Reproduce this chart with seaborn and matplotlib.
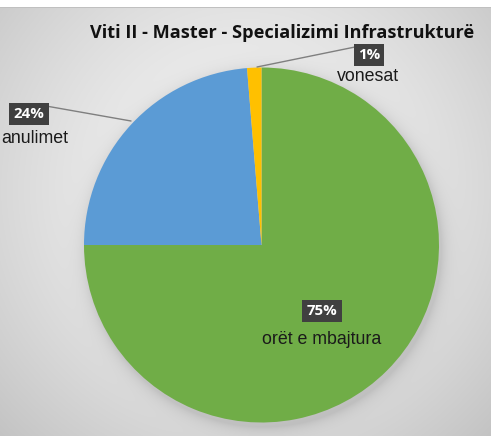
import numpy as np
import matplotlib
matplotlib.use("Agg")
import matplotlib.pyplot as plt
import seaborn as sns

# ---- data ----
categories = ["orët e mbajtura", "anulimet", "vonesat"]
values = [75.0, 23.7, 1.3]
pct_labels = ["75%", "24%", "1%"]
colors = ["#70AD47", "#5B9BD5", "#FFC000"]
title = "Viti II - Master - Specializimi Infrastrukturë"

sns.set_style("white")
plt.rcParams["font.family"] = ["Liberation Sans", "DejaVu Sans"]

W, H = 491, 436
fig = plt.figure(figsize=(W / 100, H / 100), dpi=100)

# ---- background gradient with soft pie shadow ----
cx, cy, R = 261.5, 245.0, 177.5
yy, xx = np.mgrid[0:H, 0:W].astype(float)
rg = np.hypot((xx - 245) / 300.0, (yy - 190) / 300.0)
bg = 0.955 - 0.15 * np.clip(rg, 0, 1.3) ** 1.6
d = np.hypot(xx - cx - 2, yy - cy - 4) - R
shadow = np.where(d > 0, np.exp(-d / 7.0), 1.0) * 0.10
bg = bg - shadow
bg[:8, :] = 1.0
bg[8:9, :] = 0.75
img = np.dstack([bg, bg, bg])
bax = fig.add_axes([0, 0, 1, 1])
bax.imshow(img, extent=(0, W, H, 0), aspect="auto", interpolation="bilinear")
bax.set_xlim(0, W)
bax.set_ylim(H, 0)
bax.axis("off")

# ---- pie ----
ax = fig.add_axes([(cx - R) / W, (H - cy - R) / H, 2 * R / W, 2 * R / H])
ax.pie(values, colors=colors, startangle=90, counterclock=False, radius=1.0,
       wedgeprops=dict(linewidth=0))
ax.set_xlim(-1, 1)
ax.set_ylim(-1, 1)
ax.set_aspect("equal")
ax.axis("off")


def p2d(px, py):
    return ((px - cx) / R, (cy - py) / R)


box = dict(boxstyle="square,pad=0.28", fc="#404040", ec="none")

# leader lines
for (x0, y0), (x1, y1) in [((46, 106), (131, 121)), ((355, 47), (257, 67))]:
    a, b = p2d(x0, y0)
    c, e = p2d(x1, y1)
    ax.plot([a, c], [b, e], color="#7f7f7f", lw=1.0, clip_on=False)

# labels: pct box positions and category positions (pixels)
pct_pos = [(322, 311), (29, 114), (369, 55)]
cat_pos = [(322, 339), (35, 138), (368, 76)]
for i in range(3):
    x, y = p2d(*pct_pos[i])
    ax.text(x, y, pct_labels[i], color="white", fontweight="bold", fontsize=10.8,
            family=["Open Sans", "DejaVu Sans"],
            ha="center", va="center", bbox=box, clip_on=False, zorder=5)
    x, y = p2d(*cat_pos[i])
    ax.text(x, y, categories[i], color="#1a1a1a", fontsize=12.8,
            ha="center", va="center", clip_on=False, zorder=5)

fig.text(282 / W, 1 - 33 / H, title, ha="center", va="center", fontsize=13.1,
         fontweight="bold", color="#111111", family=["Open Sans", "DejaVu Sans"])

fig.savefig("out.png", dpi=100)
